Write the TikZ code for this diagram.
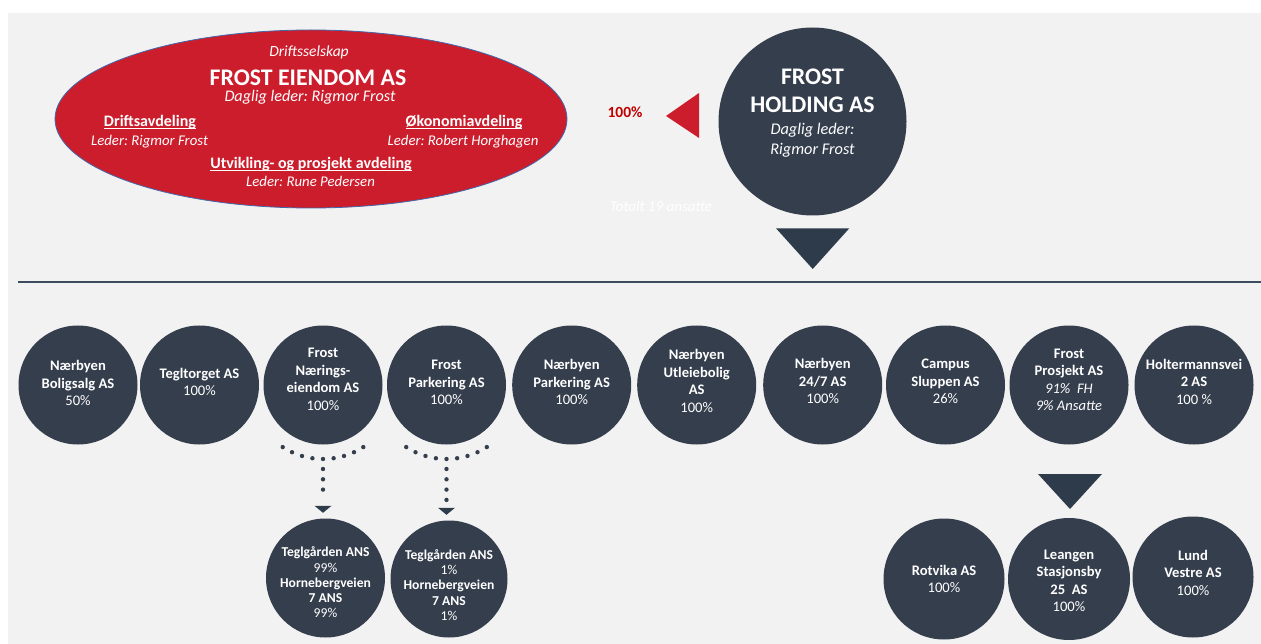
\documentclass[tikz,border=0pt]{standalone}
\usepackage{fontspec}
\setmainfont{Carlito}
\usetikzlibrary{shapes.geometric}
\frenchspacing
\definecolor{bg}{RGB}{242,242,242}
\definecolor{dk}{RGB}{53,62,77}
\definecolor{tri}{RGB}{46,59,75}
\definecolor{rd}{RGB}{204,29,45}
\definecolor{rdtxt}{RGB}{192,0,0}
\definecolor{ol}{RGB}{65,105,170}
\definecolor{ln}{RGB}{60,75,93}
\begin{document}
\begin{tikzpicture}[x=1pt,y=-1pt,
  circ/.style={circle,fill=dk,minimum size=119pt,inner sep=0pt},
  ctext/.style={text=white,align=center,inner sep=0pt,font=\fontsize{14.6}{17.5}\selectfont\bfseries},
  stext/.style={text=white,align=center,inner sep=0pt,font=\fontsize{13.6}{15.3}\selectfont\bfseries},
  wt/.style={text=white,inner sep=0pt,align=center,anchor=base},
  dotline/.style={dk,line width=4.4pt,line cap=round,dash pattern=on 0pt off 10.3pt},
  dotarc/.style={dk,line width=4.4pt,line cap=round,dash pattern=on 0pt off 10.65pt}
]
\useasboundingbox (0,0) rectangle (1261,644);
\fill[white] (0,0) rectangle (1261,644);
\fill[bg] (8,13) rectangle (1261,644);

% Frost Eiendom ellipse
\node[ellipse,fill=rd,draw=ol,line width=0.8pt,minimum width=512pt,minimum height=178pt,inner sep=0pt] (fe) at (311,119) {};
\node[wt,font=\fontsize{15.5}{18}\selectfont\itshape] (fe1) at (309,57) {Driftsselskap};
\node[wt,font=\fontsize{23.8}{26}\selectfont\bfseries] (fe2) at (308,85.5) {FROST EIENDOM AS};
\node[wt,font=\fontsize{16.2}{18}\selectfont\itshape] (fe3) at (310,102) {Daglig leder: Rigmor Frost};
\node[wt,font=\fontsize{16}{18}\selectfont\bfseries] (fe4) at (150,127) {\underline{\smash{Driftsavdeling}}};
\node[wt,font=\fontsize{14.8}{17}\selectfont\itshape] (fe5) at (149.5,145.5) {Leder: Rigmor Frost};
\node[wt,font=\fontsize{16}{18}\selectfont\bfseries] (fe6) at (464,127) {\underline{\smash{Økonomiavdeling}}};
\node[wt,font=\fontsize{14.8}{17}\selectfont\itshape] (fe7) at (463,145.5) {Leder: Robert Horghagen};
\node[wt,font=\fontsize{16}{18}\selectfont\bfseries] (fe8) at (311,169) {\underline{\smash{Utvikling- og prosjekt avdeling}}};
\node[wt,font=\fontsize{14.8}{17}\selectfont\itshape] (fe9) at (310.5,187) {Leder: Rune Pedersen};

% 100% and red triangle
\node[text=rdtxt,inner sep=0pt,anchor=base,font=\fontsize{15.5}{18}\selectfont\bfseries] (pct) at (625,117.5) {100\%};
\fill[rd] (666,116) -- (699,93) -- (699,138) -- cycle;

% Frost Holding
\node[circle,fill=dk,minimum size=188pt,inner sep=0pt] (fh) at (812.5,121.5) {};
\node[wt,font=\fontsize{23.8}{26}\selectfont\bfseries] (fh1) at (812.5,85) {FROST};
\node[wt,font=\fontsize{23.8}{26}\selectfont\bfseries] (fh2) at (812.5,113) {HOLDING AS};
\node[wt,font=\fontsize{16.3}{18}\selectfont\itshape] (fh3) at (812.5,135) {Daglig leder:};
\node[wt,font=\fontsize{16.3}{18}\selectfont\itshape] (fh4) at (812.5,155) {Rigmor Frost};
\node[wt,font=\fontsize{15}{18}\selectfont\itshape] (tot) at (661,212) {Totalt 19 ansatte};
\fill[tri] (776,228.3) -- (849.3,228.3) -- (812.7,269) -- cycle;

% separator line
\draw[ln,line width=2.2pt] (18,282) -- (1261,282);

% row of subsidiaries
\node[circ,label={[ctext,yshift=2pt]center:{Nærbyen\\Boligsalg AS\\{\mdseries 50\%}}}] (c1) at (78,385) {};
\node[circ,label={[ctext,yshift=3pt]center:{Tegltorget AS\\{\mdseries 100\%}}}] (c2) at (199.5,385) {};
\node[circ,label={[ctext,yshift=5.5pt]center:{Frost\\Nærings-\\eiendom AS\\{\mdseries 100\%}}}] (c3) at (323,385) {};
\node[circ,label={[ctext,yshift=2.5pt]center:{Frost\\Parkering AS\\{\mdseries 100\%}}}] (c4) at (446.5,385) {};
\node[circ,label={[ctext,yshift=3pt]center:{Nærbyen\\Parkering AS\\{\mdseries 100\%}}}] (c5) at (571.7,385) {};
\node[circ,label={[ctext,yshift=4pt]center:{Nærbyen\\Utleiebolig\\AS\\{\mdseries 100\%}}}] (c6) at (696.7,385) {};
\node[circ,label={[ctext,yshift=3.7pt]center:{Nærbyen\\24/7 AS\\{\mdseries 100\%}}}] (c7) at (822.7,385) {};
\node[circ,label={[ctext,yshift=3.5pt]center:{Campus\\Sluppen AS\\{\mdseries 26\%}}}] (c8) at (945.5,385) {};
\node[circ,label={[ctext,yshift=5pt]center:{Frost\\Prosjekt AS\\{\mdseries\itshape 91\%\ \ FH}\\{\mdseries\itshape 9\% Ansatte}}}] (c9) at (1069,385) {};
\node[circ,label={[ctext,yshift=3.5pt]center:{Holtermannsvei\\2 AS\\{\mdseries 100 \%}}}] (c10) at (1194,385) {};

% second level (left)
\node[circ,label={[stext,yshift=-4.5pt]center:{Teglgården ANS\\{\mdseries 99\%}\\Hornebergveien\\7 ANS\\{\mdseries 99\%}}}] (s1) at (325.5,578) {};
\node[circ,minimum size=117pt,label={[stext,yshift=-6pt]center:{Teglgården ANS\\{\mdseries 1\%}\\Hornebergveien\\7 ANS\\{\mdseries 1\%}}}] (s2) at (449,579) {};

% dotted connectors
\draw[dotarc] ([shift={(57:74)}]c3.center) arc[start angle=57,end angle=123,radius=74];
\coordinate (d1) at ([yshift=18.5pt]s1.north -| c3);
\draw[dotline] ([yshift=-84pt]c3.center) -- (d1);
\fill[tri] ([shift={(-8.5,6)}]d1) -- ([shift={(8.5,6)}]d1) -- ([shift={(0,13)}]d1) -- cycle;

\draw[dotarc] ([shift={(57:74)}]c4.center) arc[start angle=57,end angle=123,radius=74];
\coordinate (d2) at ([yshift=18.5pt]s2.north -| c4);
\draw[dotline] ([yshift=-84pt]c4.center) -- (d2);
\fill[tri] ([shift={(-8.5,6)}]d2) -- ([shift={(8.5,6)}]d2) -- ([shift={(0,13)}]d2) -- cycle;

% second level (right)
\fill[tri] (1038,474) -- (1102,474) -- (1070,509) -- cycle;
\node[circ,minimum size=121pt,label={[ctext]center:{Rotvika AS\\{\mdseries 100\%}}}] (r1) at (944,579) {};
\node[circ,minimum size=122pt,label={[ctext,yshift=-2pt]center:{Leangen\\Stasjonsby\\25\ \ AS\\{\mdseries 100\%}}}] (r2) at (1069,579) {};
\node[circ,minimum size=121pt,label={[ctext,yshift=4.5pt]center:{Lund\\Vestre AS\\{\mdseries 100\%}}}] (r3) at (1193,577) {};
\end{tikzpicture}
\end{document}
